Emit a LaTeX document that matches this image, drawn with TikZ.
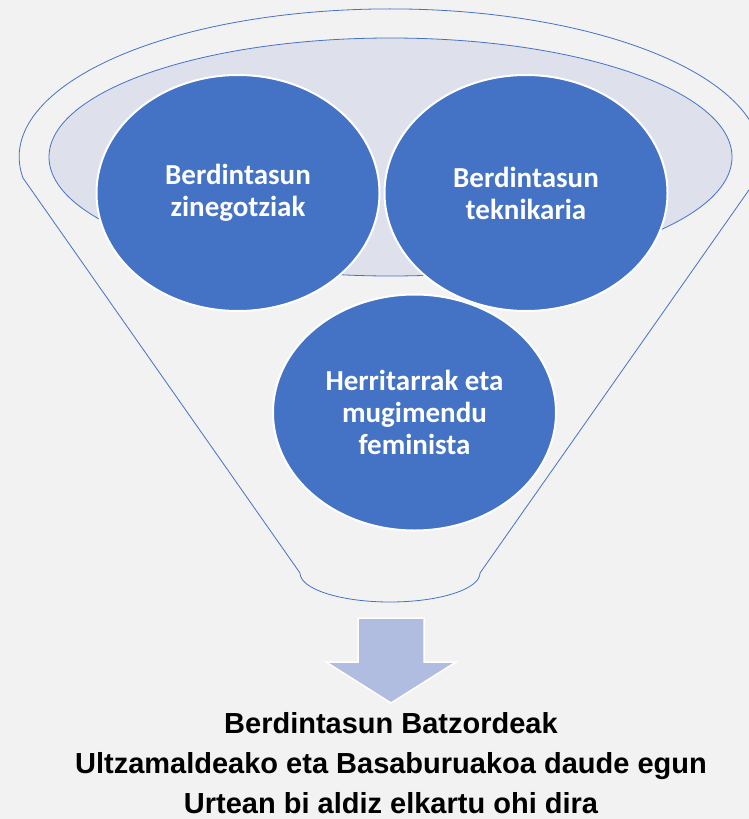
\documentclass[tikz,border=0pt]{standalone}
\usepackage{fontspec}
\usepackage{xcolor}
\usepackage{tikz}
\usetikzlibrary{shapes.geometric}
\newfontfamily\calibri{Carlito}
\newfontfamily\arial{Liberation Sans}
\definecolor{bggray}{HTML}{F2F2F2}
\definecolor{accblue}{HTML}{4472C4}
\definecolor{lavender}{HTML}{DEE1EC}
\definecolor{arrowblue}{HTML}{B0BDE0}

\begin{document}
\begin{tikzpicture}[x=1pt, y=-1pt]
\fill[bggray] (0,0) rectangle (749,819);
\useasboundingbox (0,0) rectangle (749,819);
% funnel outline and its top
\draw[accblue, line width=0.8pt] (23,178) arc[start angle=171.8, end angle=368.2, x radius=371, y radius=148]
  -- (480,573) arc[start angle=0, end angle=180, x radius=90, y radius=29] -- cycle;
\draw[accblue, line width=0.8pt, fill=lavender] (390.5,157) ellipse [x radius=341.5, y radius=119];
\begin{scope}[every node/.style={ellipse, draw=white, line width=2pt, fill=accblue, text=white,
    minimum width=283pt, minimum height=236pt, inner sep=0pt, align=center,
    font=\calibri\bfseries\fontsize{29}{32}\selectfont}]
  \node (zinegotzi) at (238,193) {Berdintasun\\zinegotziak};
  \node (teknikari) at (526,193) {Berdintasun\\teknikaria};
  \node (herritar) at (414.5,412.5) {Herritarrak eta\\mugimendu\\feminista};
\end{scope}
% arrow
\filldraw[fill=arrowblue, draw=white, line width=1.5pt] (358,618) -- (424,618) -- (424,662) -- (456,662)
  -- (391,703) -- (326,662) -- (358,662) -- cycle;
\node[font=\arial\bfseries\fontsize{29}{40}\selectfont, align=center, anchor=north, inner sep=0pt] (batzorde) at (391,712)
  {Berdintasun Batzordeak\\Ultzamaldeako eta Basaburuakoa daude egun\\Urtean bi aldiz elkartu ohi dira};
\end{tikzpicture}
\end{document}
